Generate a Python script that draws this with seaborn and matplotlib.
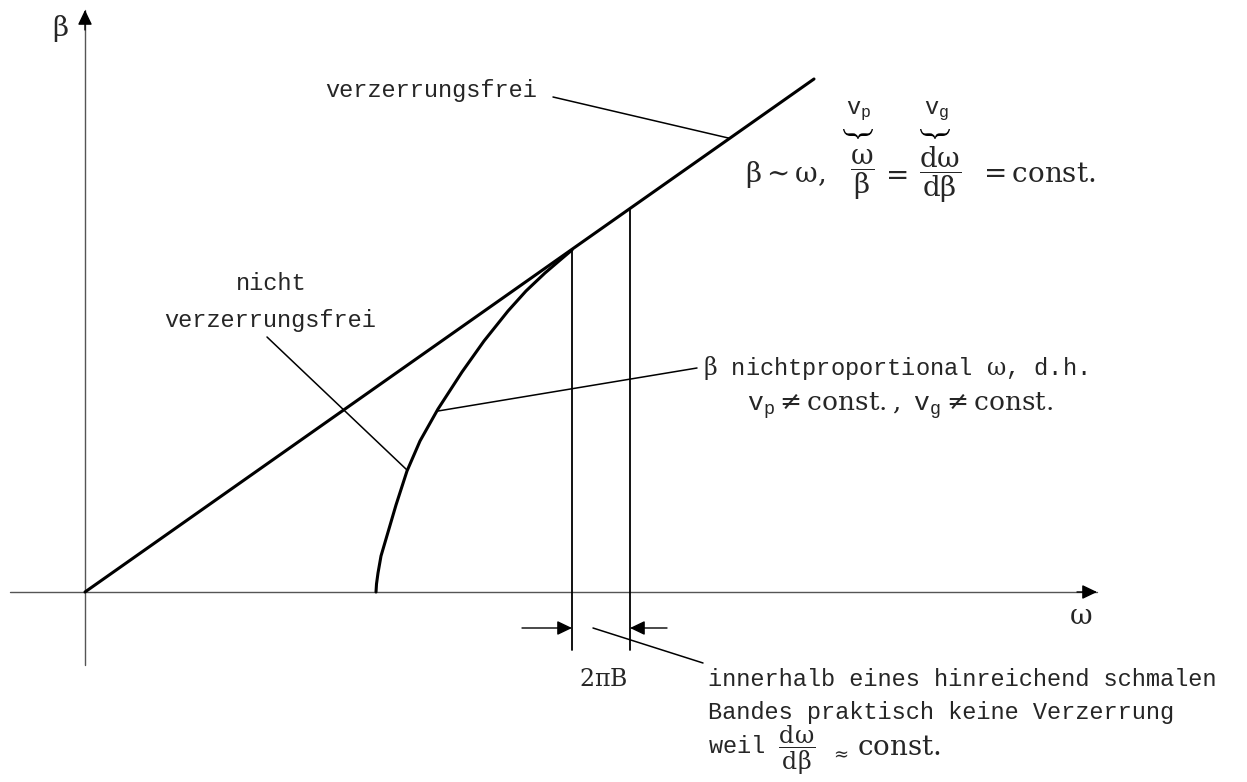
import matplotlib
matplotlib.use('Agg')
import matplotlib.pyplot as plt
import seaborn as sns
import pandas as pd
from matplotlib.textpath import TextPath
from matplotlib.patches import PathPatch
from matplotlib.font_manager import FontProperties
from matplotlib.transforms import Affine2D

# Dispersionsdiagramm beta(omega): verzerrungsfrei vs. nicht verzerrungsfrei
sns.set_theme(style='white')
plt.rcParams['font.family'] = ['Liberation Mono', 'DejaVu Sans']
plt.rcParams['mathtext.fontset'] = 'custom'
plt.rcParams['mathtext.rm'] = 'DejaVu Serif'
plt.rcParams['mathtext.it'] = 'DejaVu Serif'
plt.rcParams['mathtext.bf'] = 'DejaVu Serif:bold'
plt.rcParams['mathtext.tt'] = 'Liberation Mono'

# Werte (Einheit: omega / beta)
gerade_omega = [0.0, 7.29]
gerade_beta = [0.0, 5.13]

kurve_omega = [2.91, 2.915, 2.93, 2.96, 3.01, 3.11, 3.22, 3.35, 3.53, 3.77, 3.99, 4.23, 4.41, 4.60, 4.74, 4.87]
kurve_beta = [0.00, 0.08, 0.19, 0.36, 0.53, 0.87, 1.21, 1.51, 1.83, 2.20, 2.51, 2.81, 3.01, 3.19, 3.31, 3.42]

band_omega = [4.87, 5.45]
band_oben = [3.42, 3.83]
band_unten = [-0.58, -0.58]

achse_omega = [-0.75, 10.12]
achse_beta = [-0.73, 5.82]

MONO = 17
MATH = 20

fig = plt.figure(figsize=(12.47, 7.82), dpi=100)
ax = fig.add_axes([0, 0, 1, 1])
ax.set_xlim(-0.85, 11.62)
ax.set_ylim(-1.90, 5.92)
ax.axis('off')


def klammer(xc, yc, breite, hoehe):
    # geschweifte Klammer (unten) als Pfad, auf Breite/Hoehe gestreckt
    tp = TextPath((0, 0), '\u23df', size=10, prop=FontProperties(family='STIXGeneral'))
    ext = tp.get_extents()
    tr = (Affine2D()
          .translate(-ext.x0 - ext.width / 2, -ext.y0 - ext.height / 2)
          .scale(breite / ext.width, hoehe / ext.height)
          .translate(xc, yc))
    ax.add_patch(PathPatch(tr.transform_path(tp), facecolor='black', lw=0))


# Achsen mit Pfeilspitzen
kopf = dict(arrowstyle='-|>,head_length=0.75,head_width=0.36', color='black',
            lw=1.0, shrinkA=0, shrinkB=0)
ax.plot(achse_omega, [0, 0], color='#555555', lw=1.0)
ax.plot([0, 0], achse_beta, color='#555555', lw=1.0)
ax.annotate('', xy=(achse_omega[1], 0), xytext=(achse_omega[1] - 0.2, 0), arrowprops=kopf)
ax.annotate('', xy=(0, achse_beta[1]), xytext=(0, achse_beta[1] - 0.2), arrowprops=kopf)
ax.text(-0.25, 5.64, r'$\beta$', fontsize=MATH, ha='center', va='center')
ax.text(9.96, -0.25, r'$\omega$', fontsize=MATH, ha='center', va='center')

# Kennlinien
sns.lineplot(x=gerade_omega, y=gerade_beta, color='black', linewidth=2.2,
             sort=False, estimator=None, ax=ax)
sns.lineplot(x=kurve_omega, y=kurve_beta, color='black', linewidth=2.2,
             sort=False, estimator=None, ax=ax)

df_band = pd.DataFrame({
    'omega': band_omega + band_omega,
    'beta': band_unten + band_oben,
    'linie': [0, 1, 0, 1],
})
sns.lineplot(data=df_band, x='omega', y='beta', units='linie', estimator=None,
             sort=False, color='black', linewidth=1.3, ax=ax)

# Bandbreiten-Pfeile
ax.annotate('', xy=(band_omega[0], -0.36), xytext=(band_omega[0] - 0.5, -0.36), arrowprops=kopf)
ax.annotate('', xy=(band_omega[1], -0.36), xytext=(band_omega[1] + 0.37, -0.36), arrowprops=kopf)
ax.text(5.18, -0.88, r'$2\pi\mathrm{B}$', fontsize=MONO, ha='center', va='center')

# Hinweislinien
hinweise = [((4.68, 4.95), (6.45, 4.536)),
            ((1.82, 2.55), (3.22, 1.22)),
            ((6.12, 2.24), (3.53, 1.81)),
            ((5.08, -0.36), (6.18, -0.71))]
for (x0, y0), (x1, y1) in hinweise:
    ax.plot([x0, x1], [y0, y1], color='black', lw=1.1)

# Beschriftungen
ax.text(2.40, 4.95, 'verzerrungsfrei', fontsize=MONO, ha='left', va='baseline')
ax.text(1.86, 3.09, 'nicht', fontsize=MONO, ha='center', va='center')
ax.text(1.855, 2.72, 'verzerrungsfrei', fontsize=MONO, ha='center', va='center')

ax.text(6.18, 2.24, r'$\beta$ nichtproportional $\omega$, d.h.', fontsize=MONO,
        ha='left', va='center')
ax.text(6.62, 1.86, r'$\mathtt{v}_\mathtt{p} \neq \mathrm{const.},\ \mathtt{v}_\mathtt{g} \neq \mathrm{const.}$',
        fontsize=19, ha='left', va='center')

# Formel oben rechts
ax.text(6.60, 4.17, r'$\beta \sim \omega,$', fontsize=MATH, ha='left', va='center')
ax.text(7.77, 4.17, r'$\dfrac{\omega}{\beta}$', fontsize=MATH, ha='center', va='center')
ax.text(8.09, 4.17, r'$=$', fontsize=MATH, ha='center', va='center')
ax.text(8.55, 4.17, r'$\dfrac{d\omega}{d\beta}$', fontsize=MATH, ha='center', va='center')
ax.text(8.93, 4.17, r'$= \mathrm{const.}$', fontsize=MATH, ha='left', va='center')
ax.text(7.74, 4.81, r'$\mathtt{v}_\mathtt{p}$', fontsize=MONO, ha='center', va='center')
ax.text(8.51, 4.81, r'$\mathtt{v}_\mathtt{g}$', fontsize=MONO, ha='center', va='center')
klammer(7.73, 4.58, 0.30, 0.10)
klammer(8.50, 4.58, 0.30, 0.10)

# Text unten
ax.text(6.23, -0.88, 'innerhalb eines hinreichend schmalen', fontsize=MONO, ha='left', va='center')
ax.text(6.23, -1.21, 'Bandes praktisch keine Verzerrung', fontsize=MONO, ha='left', va='center')
ax.text(6.23, -1.58, r'weil $\dfrac{d\omega}{d\beta}$', fontsize=MONO, ha='left', va='center')
ax.text(7.45, -1.62, r'$\approx$', fontsize=13, ha='left', va='center')
ax.text(7.72, -1.56, r'$\mathrm{const.}$', fontsize=MATH, ha='left', va='center')

fig.savefig('out.png', dpi=100)
